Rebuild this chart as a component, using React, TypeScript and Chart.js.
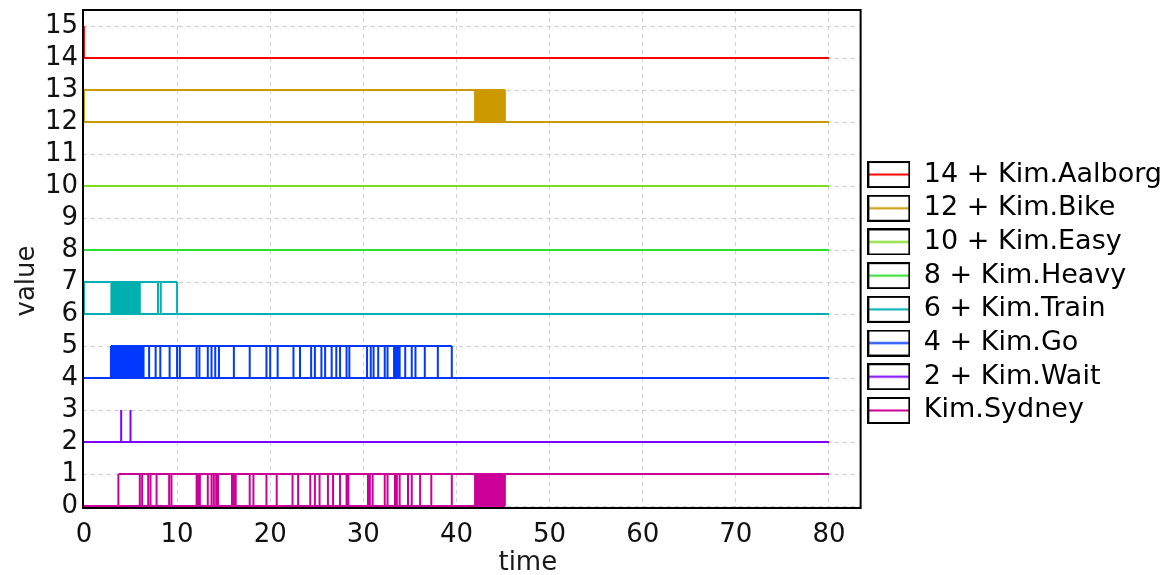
import { useEffect, useRef } from 'react';
import { Chart, registerables } from 'chart.js';

Chart.register(...registerables);

// ---- data ----
const seriesLabels = [
  '14 + Kim.Aalborg',
  '12 + Kim.Bike',
  '10 + Kim.Easy',
  '8 + Kim.Heavy',
  '6 + Kim.Train',
  '4 + Kim.Go',
  '2 + Kim.Wait',
  'Kim.Sydney',
];
const seriesColors = ['#ff0000', '#cc9900', '#7ddc1f', '#2ee02e', '#00b0b0', '#0038ff', '#8000ff', '#cc0099'];
const seriesBase = [14, 12, 10, 8, 6, 4, 2, 0];
// span of the low level (base) line
const lowEnd = [80, 80, 80, 80, 80, 80, 80, 45.2];
// span of the high level (base + 1) line, null = none
const highStart: (number | null)[] = [null, 0, null, null, 0, 2.9, null, 3.7];
const highEnd: (number | null)[] = [null, 45.2, null, null, 10.0, 39.5, null, 80];

const aalborgSwitches = [0];
const bikeSwitches = [0, 42.0, 45.2];
const easySwitches: number[] = [];
const heavySwitches: number[] = [];
const trainSwitches = [0, 2.95, 6.0, 7.95, 8.25, 10.0];
const goSwitches = [
  2.9, 6.3, 6.4, 7.0, 7.7, 8.2, 9.2, 10.0, 10.3, 12.1, 12.4, 13.3, 13.7, 14.1, 14.5, 16.1, 17.8,
  19.6, 20.0, 20.8, 22.5, 23.2, 24.4, 24.8, 25.5, 25.9, 26.6, 27.1, 27.5, 28.2, 28.5, 30.4, 30.8,
  31.1, 31.6, 32.3, 32.6, 33.3, 33.9, 34.5, 35.2, 35.6, 36.6, 38.0, 39.5,
];
const waitSwitches = [4.0, 5.0];
const sydneySwitches = [
  3.7, 6.0, 6.25, 6.9, 7.15, 7.8, 9.15, 9.4, 12.1, 12.3, 12.45, 13.3, 13.7, 13.95, 14.2, 14.4, 15.9,
  16.1, 16.3, 17.8, 18.2, 19.6, 20.7, 22.4, 23.0, 24.3, 24.8, 25.3, 26.2, 26.75, 27.5, 28.2, 28.4,
  30.5, 30.7, 31.0, 32.3, 32.6, 33.4, 33.6, 33.9, 34.8, 35.2, 36.1, 37.3, 39.5, 42.0, 45.2,
];
const seriesSwitches = [
  aalborgSwitches, bikeSwitches, easySwitches, heavySwitches,
  trainSwitches, goSwitches, waitSwitches, sydneySwitches,
];

// dense (filled) intervals
const denseSeries = [1, 4, 5, 5, 7];
const denseStart = [42.0, 2.95, 2.9, 33.3, 42.0];
const denseEnd = [45.2, 6.0, 6.3, 33.9, 45.2];

const xTicks = [0, 10, 20, 30, 40, 50, 60, 70, 80];
const yTicks = [0, 1, 2, 3, 4, 5, 6, 7, 8, 9, 10, 11, 12, 13, 14, 15];

const FONT = 'DejaVu Sans';

function buildSeries(i: number) {
  const b = seriesBase[i];
  const pts: { x: number; y: number | null }[] = [];
  pts.push({ x: 0, y: b }, { x: lowEnd[i], y: b }, { x: lowEnd[i], y: null });
  const hs = highStart[i];
  const he = highEnd[i];
  if (hs !== null && he !== null) {
    pts.push({ x: hs, y: b + 1 }, { x: he, y: b + 1 }, { x: he, y: null });
  }
  for (const t of seriesSwitches[i]) {
    pts.push({ x: t, y: b }, { x: t, y: b + 1 }, { x: t, y: null });
  }
  return pts;
}

function makeLegendIcon(color: string) {
  const c = document.createElement('canvas');
  c.width = 43;
  c.height = 27;
  const g = c.getContext('2d')!;
  g.fillStyle = '#fff';
  g.fillRect(0, 0, 43, 27);
  g.strokeStyle = '#000';
  g.lineWidth = 2;
  g.strokeRect(1, 1, 41, 25);
  g.strokeStyle = color;
  g.lineWidth = 2;
  g.beginPath();
  g.moveTo(2, 13.5);
  g.lineTo(41, 13.5);
  g.stroke();
  return c;
}

const framePlugin = {
  id: 'frameAndTitles',
  afterDatasetsDraw(chart: any) {
    const { ctx, chartArea } = chart;
    const { left, top, right, bottom } = chartArea;
    ctx.save();
    ctx.strokeStyle = '#000';
    ctx.lineWidth = 2;
    ctx.strokeRect(left, top, right - left, bottom - top);
    ctx.restore();
  },
  afterDraw(chart: any) {
    const { ctx, chartArea } = chart;
    const { left, right, top, bottom } = chartArea;
    ctx.save();
    ctx.fillStyle = '#1a1a1a';
    ctx.font = `26px "${FONT}"`;
    ctx.textAlign = 'center';
    ctx.textBaseline = 'alphabetic';
    ctx.fillText('time', (left + right) / 2 + 56, 570);
    ctx.translate(34, (top + bottom) / 2 + 22);
    ctx.rotate(-Math.PI / 2);
    ctx.fillText('value', 0, 0);
    ctx.restore();
  },
};

export default function App() {
  const ref = useRef<HTMLCanvasElement>(null);

  useEffect(() => {
    const canvas = ref.current;
    if (!canvas) return;
    const icons = seriesColors.map(makeLegendIcon);

    const datasets: any[] = seriesLabels.map((label, i) => ({
      label,
      data: buildSeries(i),
      borderColor: seriesColors[i],
      backgroundColor: seriesColors[i],
      borderWidth: 2,
      pointRadius: 0,
      spanGaps: false,
      fill: false,
      tension: 0,
    }));
    denseSeries.forEach((s, k) => {
      const b = seriesBase[s];
      datasets.push({
        label: '_dense' + k,
        data: [
          { x: denseStart[k], y: b + 1 },
          { x: denseEnd[k], y: b + 1 },
        ],
        borderColor: seriesColors[s],
        backgroundColor: seriesColors[s],
        borderWidth: 2,
        pointRadius: 0,
        fill: { value: b },
      });
    });

    const chart = new Chart(canvas, {
      type: 'line',
      data: { datasets },
      plugins: [framePlugin],
      options: {
        animation: false,
        responsive: true,
        maintainAspectRatio: false,
        layout: { padding: { top: 10, right: 1, left: 0, bottom: 0 } },
        plugins: {
          tooltip: { enabled: false },
          legend: {
            position: 'right',
            align: 'center',
            maxWidth: 340,
            onClick: () => {},
            labels: {
              usePointStyle: true,
              pointStyleWidth: 43,
              padding: 6.7,
              color: '#222',
              font: { family: FONT, size: 27 },
              generateLabels: () =>
                seriesLabels.map((text, i) => ({
                  text,
                  pointStyle: icons[i] as any,
                  datasetIndex: i,
                  hidden: false,
                  fillStyle: '#fff',
                  strokeStyle: '#000',
                  lineWidth: 0,
                })),
            },
          },
        },
        scales: {
          x: {
            type: 'linear',
            min: -0.1,
            max: 83.4,
            afterFit: (scale: any) => {
              scale.height = 67;
              scale.paddingLeft = 0;
              scale.paddingRight = 0;
            },
            afterBuildTicks: (scale: any) => {
              scale.ticks = xTicks.map((v) => ({ value: v }));
            },
            ticks: {
              includeBounds: false,
              autoSkip: false,
              maxRotation: 0,
              padding: 12,
              color: '#111',
              font: { family: FONT, size: 26 },
            },
            border: { display: false, dash: [4, 4] },
            grid: {
              drawTicks: false,
              color: '#cfcfcf',
              lineWidth: 1,
            },
          },
          y: {
            type: 'linear',
            min: -0.06,
            max: 15.5,
            afterFit: (scale: any) => {
              scale.width = 83;
              scale.paddingTop = 0;
              scale.paddingBottom = 0;
            },
            afterBuildTicks: (scale: any) => {
              scale.ticks = yTicks.map((v) => ({ value: v }));
            },
            ticks: {
              includeBounds: false,
              autoSkip: false,
              padding: 5,
              color: '#111',
              font: { family: FONT, size: 26 },
            },
            border: { display: false, dash: [4, 4] },
            grid: {
              drawTicks: false,
              color: '#cfcfcf',
              lineWidth: 1,
            },
          },
        },
      } as any,
    });
    return () => chart.destroy();
  }, []);

  return (
    <div style={{ position: 'fixed', left: 0, top: 0, width: 1173, height: 575, background: '#fff' }}>
      <canvas ref={ref} />
    </div>
  );
}
